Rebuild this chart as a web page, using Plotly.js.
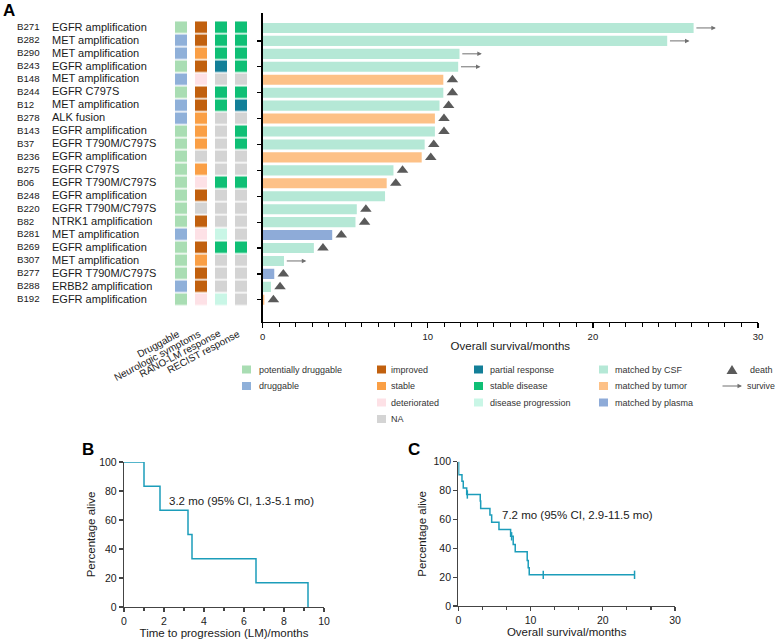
<!DOCTYPE html>
<html>
<head>
<meta charset="utf-8">
<script src="https://cdn.plot.ly/plotly-3.0.1.min.js"></script>
<style>html,body{margin:0;padding:0;background:#fff;} #chart{width:777px;height:640px;}</style>
</head>
<body>
<div id="chart"></div>
<script>
// ---------------- DATA ----------------
const ids = ['B271','B282','B290','B243','B148','B244','B12','B278','B143','B37','B236',
             'B275','B06','B248','B220','B82','B281','B269','B307','B277','B288','B192'];
const mutations = ['EGFR amplification','MET amplification','MET amplification','EGFR amplification',
  'MET amplification','EGFR C797S','MET amplification','ALK fusion','EGFR amplification',
  'EGFR T790M/C797S','EGFR amplification','EGFR C797S','EGFR T790M/C797S','EGFR amplification',
  'EGFR T790M/C797S','NTRK1 amplification','MET amplification','EGFR amplification',
  'MET amplification','EGFR T790M/C797S','ERBB2 amplification','EGFR amplification'];
const osMonths = [26.1, 24.5, 11.92, 11.84, 10.94, 10.94, 10.71, 10.43, 10.43, 9.81, 9.63,
                  7.92, 7.51, 7.41, 5.70, 5.62, 4.21, 3.10, 1.29, 0.70, 0.50, 0.10];
const matchSource = ['CSF','CSF','CSF','CSF','tumor','CSF','CSF','tumor','CSF','CSF','tumor',
                     'CSF','tumor','CSF','CSF','CSF','plasma','CSF','CSF','plasma','CSF','tumor'];
const outcome = ['survive','survive','survive','survive','death','death','death','death','death','death','death',
                 'death','death','none','death','death','death','death','survive','death','death','death'];
const druggable = ['potentially druggable','druggable','druggable','potentially druggable','druggable',
  'potentially druggable','druggable','druggable','potentially druggable','potentially druggable',
  'potentially druggable','potentially druggable','potentially druggable','potentially druggable',
  'potentially druggable','potentially druggable','druggable','potentially druggable',
  'potentially druggable','potentially druggable','druggable','potentially druggable'];
const neuroSymptoms = ['improved','improved','stable','improved','deteriorated','improved','improved',
  'stable','stable','stable','NA','stable','deteriorated','improved','NA','improved','deteriorated',
  'improved','stable','improved','improved','deteriorated'];
const ranoResponse = ['stable disease','stable disease','stable disease','partial response','NA',
  'stable disease','stable disease','NA','NA','NA','NA','NA','stable disease','NA','NA','NA',
  'disease progression','stable disease','NA','NA','NA','disease progression'];
const recistResponse = ['stable disease','stable disease','stable disease','stable disease','NA',
  'stable disease','partial response','NA','stable disease','stable disease','NA','NA',
  'stable disease','NA','NA','NA','NA','stable disease','NA','NA','NA','NA'];
const gridColumns = ['Druggable','Neurologic symptoms','RANO-LM response','RECIST response'];

// Kaplan-Meier, panel B (time to progression)
const kmB_t = [0, 1.0, 1.8, 3.2, 3.4, 6.6, 9.2];
const kmB_s = [100, 83.3, 66.7, 50, 33.3, 16.7, 0];
// Kaplan-Meier, panel C (overall survival)
const kmC_t = [0, 0.05, 0.51, 0.69, 1.16, 3.04, 3.1, 4.38, 4.62, 5.63, 7.24, 7.6, 7.88, 9.54, 9.68, 9.82, 24.4];
const kmC_s = [100, 90.9, 86.4, 81.8, 77.3, 72.7, 67.6, 63.1, 58.0, 53.1, 48.3, 42.7, 37.6, 31.6, 26.5, 21.6, 21.6];
const kmC_censorT = [1.25, 7.38, 11.76, 24.4];
const kmC_censorS = [77.3, 48.3, 21.6, 21.6];
const medianB = '3.2 mo (95% CI, 1.3-5.1 mo)';
const medianC = '7.2 mo (95% CI, 2.9-11.5 mo)';

// ---------------- STYLE ----------------
const FONT = 'Arial, "Liberation Sans", Helvetica, sans-serif';
const W = 777, H = 640;
const X = px => px / W;
const Y = py => 1 - py / H;
const cellColors = {
  'potentially druggable':'#a9ddb3', 'druggable':'#8fb0d9', 'improved':'#c1600e', 'stable':'#fa9f45',
  'deteriorated':'#fde1e6', 'NA':'#d4d4d4', 'partial response':'#137f98', 'stable disease':'#0fbf75',
  'disease progression':'#c9f6e6'
};
const cellOrder = Object.keys(cellColors);
const barColors = {CSF:'#b5e8d6', tumor:'#fdc187', plasma:'#8eabd8'};
const kmColor = '#1c9dba';

// heatmap matrix from the four status arrays
const z = ids.map((_, i) => [druggable[i], neuroSymptoms[i], ranoResponse[i], recistResponse[i]]
  .map(v => cellOrder.indexOf(v)));
const nC = cellOrder.length;
const colorscale = [];
cellOrder.forEach((k, i) => { colorscale.push([i / nC, cellColors[k]]); colorscale.push([(i + 1) / nC, cellColors[k]]); });

const deathIdx = outcome.map((o, i) => o === 'death' ? i : -1).filter(i => i >= 0);
const surviveIdx = outcome.map((o, i) => o === 'survive' ? i : -1).filter(i => i >= 0);

const traces = [
  { type:'bar', orientation:'h', x: osMonths, y: ids, xaxis:'x', yaxis:'y', width:0.78,
    marker:{color: matchSource.map(s => barColors[s])}, hoverinfo:'skip' },
  { type:'scatter', mode:'markers', x: deathIdx.map(i => osMonths[i] + 0.55), y: deathIdx.map(i => ids[i]),
    xaxis:'x', yaxis:'y', marker:{symbol:'triangle-up', size:10, color:'#5a5a5a'}, cliponaxis:false, hoverinfo:'skip' },
  { type:'heatmap', z: z, x:[0,1,2,3], y: ids, xaxis:'x2', yaxis:'y', colorscale: colorscale,
    zmin:-0.5, zmax:nC - 0.5, showscale:false, xgap:8, ygap:1.5, hoverinfo:'skip' },
  { type:'scatter', mode:'text', x: ids.map(() => 17), y: ids, text: ids, textposition:'middle right',
    xaxis:'x3', yaxis:'y', textfont:{family:FONT, size:9.7, color:'#1a1a1a'}, cliponaxis:false, hoverinfo:'skip' },
  { type:'scatter', mode:'text', x: ids.map(() => 52), y: ids, text: mutations, textposition:'middle right',
    xaxis:'x3', yaxis:'y', textfont:{family:FONT, size:11, color:'#1a1a1a'}, cliponaxis:false, hoverinfo:'skip' },
  { type:'scatter', mode:'lines', x: kmB_t, y: kmB_s, xaxis:'x4', yaxis:'y4', line:{shape:'hv', color:kmColor, width:1.5},
    cliponaxis:false, hoverinfo:'skip' },
  { type:'scatter', mode:'lines', x: kmC_t, y: kmC_s, xaxis:'x5', yaxis:'y5', line:{shape:'hv', color:kmColor, width:1.5},
    cliponaxis:false, hoverinfo:'skip' },
  { type:'scatter', mode:'markers', x: kmC_censorT, y: kmC_censorS, xaxis:'x5', yaxis:'y5',
    marker:{symbol:'line-ns', size:6, line:{color:kmColor, width:1.5}}, cliponaxis:false, hoverinfo:'skip' }
];

const annotations = [];
// survive arrows
surviveIdx.forEach(i => annotations.push({
  xref:'x', yref:'y', x: osMonths[i] + 1.35, y: i, ax:-21, ay:0, text:'', showarrow:true,
  arrowhead:2, arrowsize:0.9, arrowwidth:1, arrowcolor:'#707070'
}));
// grid column labels
const colCenters = [181, 201, 221, 241];
gridColumns.forEach((t, i) => annotations.push({
  xref:'paper', yref:'paper', x: X(colCenters[i] + 4), y: Y(325), xanchor:'right', yanchor:'top',
  text: t, textangle:-28, showarrow:false, font:{family:FONT, size:10, color:'#1a1a1a'}
}));
// panel letters
[['A', 9, 10], ['B', 88, 449], ['C', 414, 449]].forEach(p => annotations.push({
  xref:'paper', yref:'paper', x: X(p[1]), y: Y(p[2]), text:'<b>' + p[0] + '</b>', showarrow:false,
  xanchor:'center', yanchor:'middle', font:{family:FONT, size:17, color:'#000'}
}));
// KM medians
annotations.push({xref:'paper', yref:'paper', x:X(167), y:Y(501), xanchor:'left', yanchor:'middle', showarrow:false,
  text: medianB, font:{family:FONT, size:11.5, color:'#1a1a1a'}});
annotations.push({xref:'paper', yref:'paper', x:X(500), y:Y(515), xanchor:'left', yanchor:'middle', showarrow:false,
  text: medianC, font:{family:FONT, size:11.5, color:'#1a1a1a'}});

// legend
const shapes = [];
const legRows = [369.5, 386, 402.5, 419];
const legCols = [
  {sw:242, tx:257, items:['potentially druggable','druggable'], colors:cellColors},
  {sw:377, tx:389, items:['improved','stable','deteriorated','NA'], colors:cellColors},
  {sw:474, tx:488, items:['partial response','stable disease','disease progression'], colors:cellColors},
  {sw:599, tx:613, items:['CSF','tumor','plasma'], colors:barColors, prefix:'matched by '}
];
const legFont = {family:FONT, size:9, color:'#333'};
legCols.forEach(col => col.items.forEach((it, r) => {
  shapes.push({type:'rect', xref:'paper', yref:'paper', x0:X(col.sw), x1:X(col.sw + 9),
    y0:Y(legRows[r] + 4), y1:Y(legRows[r] - 4), fillcolor: col.colors[it], line:{width:0}});
  annotations.push({xref:'paper', yref:'paper', x:X(col.tx), y:Y(legRows[r]), xanchor:'left', yanchor:'middle',
    showarrow:false, text:(col.prefix || '') + it, font:legFont});
}));
// death triangle legend
shapes.push({type:'path', xref:'paper', yref:'paper',
  path:`M ${X(726.5)} ${Y(374)} L ${X(737.5)} ${Y(374)} L ${X(732)} ${Y(365)} Z`,
  fillcolor:'#5a5a5a', line:{width:0}});
annotations.push({xref:'paper', yref:'paper', x:X(748), y:Y(legRows[0]), xanchor:'left', yanchor:'middle',
  showarrow:false, text:'death', font:legFont});
annotations.push({xref:'paper', yref:'paper', x:X(742), y:Y(legRows[1]), ax:-21, ay:0, text:'', showarrow:true,
  arrowhead:2, arrowsize:0.9, arrowwidth:1, arrowcolor:'#707070'});
annotations.push({xref:'paper', yref:'paper', x:X(745), y:Y(legRows[1]), xanchor:'left', yanchor:'middle',
  showarrow:false, text:'survive', font:{family:FONT, size:8.8, color:'#333'}});

const axCommon = {showgrid:false, zeroline:false, showline:true, linecolor:'#000', ticks:'outside',
  tickcolor:'#000', tickfont:{family:FONT, size:10, color:'#1a1a1a'}};
const kmAx = {showgrid:false, zeroline:false, showline:true, linecolor:'#444', linewidth:1.2, ticks:'outside',
  tickcolor:'#444', tickwidth:1.2, ticklen:4, tickfont:{family:FONT, size:10.5, color:'#1a1a1a'}};

const layout = {
  width:W, height:H, margin:{l:0, r:0, t:0, b:0}, showlegend:false,
  paper_bgcolor:'#fff', plot_bgcolor:'rgba(0,0,0,0)', font:{family:FONT},
  xaxis: Object.assign({}, axCommon, {domain:[X(262.7), X(758)], range:[0,30], anchor:'y', linewidth:1.6,
    tick0:0, dtick:10, ticklen:5, tickwidth:1.3, tickfont:{family:FONT, size:9.5, color:'#1a1a1a'},
    minor:{ticks:'outside', dtick:1, ticklen:3.5, tickwidth:1, tickcolor:'#000'},
    title:{text:'Overall survival/months', font:{family:FONT, size:11.5, color:'#1a1a1a'}, standoff:1}}),
  yaxis: Object.assign({}, axCommon, {domain:[Y(321.5), Y(12.5)], type:'category', autorange:'reversed',
    anchor:'x', linewidth:1.6, ticklen:4, tickwidth:1.2, showticklabels:false}),
  xaxis2: {domain:[X(171), X(251)], range:[-0.5, 3.5], anchor:'y', visible:false},
  xaxis3: {domain:[0, X(171)], range:[0, 171], anchor:'y', visible:false},
  xaxis4: Object.assign({}, kmAx, {domain:[X(124), X(324)], range:[0,10], anchor:'y4', dtick:2,
    minor:{ticks:'outside', dtick:1, ticklen:2.5, tickcolor:'#444'},
    title:{text:'Time to progression (LM)/months', font:{family:FONT, size:11.5, color:'#1a1a1a'}, standoff:2}}),
  yaxis4: Object.assign({}, kmAx, {domain:[Y(607), Y(462)], range:[0,100], anchor:'x4', dtick:20,
    title:{text:'Percentage alive', font:{family:FONT, size:11.5, color:'#1a1a1a'}, standoff:1}}),
  xaxis5: Object.assign({}, kmAx, {domain:[X(458.3), X(675)], range:[0,30], anchor:'y5', dtick:10,
    minor:{ticks:'outside', dtick:10/3, ticklen:2.5, tickcolor:'#444'},
    title:{text:'Overall survival/months', font:{family:FONT, size:11.5, color:'#1a1a1a'}, standoff:2}}),
  yaxis5: Object.assign({}, kmAx, {domain:[Y(606), Y(461.7)], range:[0,100], anchor:'x5', dtick:20,
    title:{text:'Percentage alive', font:{family:FONT, size:11.5, color:'#1a1a1a'}, standoff:4}}),
  annotations: annotations,
  shapes: shapes
};

Plotly.newPlot('chart', traces, layout, {staticPlot:true, displayModeBar:false});
</script>
</body>
</html>
